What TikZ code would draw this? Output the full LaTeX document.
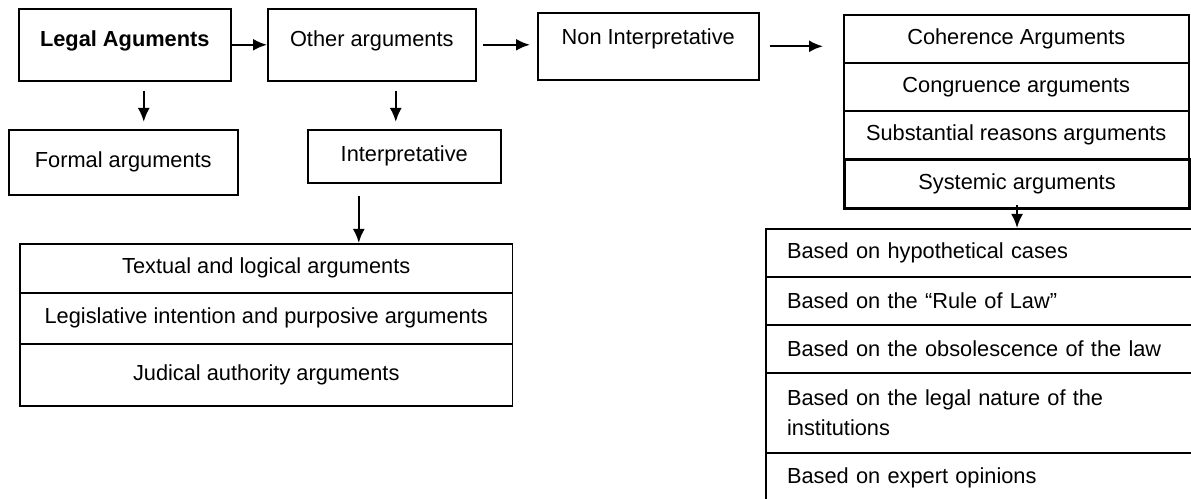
\documentclass[tikz,border=0pt]{standalone}
\usepackage{fontspec}
\setmainfont{Liberation Sans}
\usepackage{tikz}
\usetikzlibrary{arrows.meta}

\begin{document}
\begin{tikzpicture}[x=0.02cm, y=-0.02cm,
  every node/.style={font=\fontsize{12.4}{17}\selectfont},
  box/.style={draw, line width=0.9pt, inner sep=0pt, anchor=north west},
  brow/.style={draw, line width=1.2pt, inner ysep=0pt, inner xsep=0.42cm, text width=7.96cm, align=left, anchor=north west},
  arw/.style={-{Latex[length=0.28cm, width=0.24cm]}, line width=1.3pt}]
\useasboundingbox (0,0) rectangle (1191,499);
\clip (0,0) rectangle (1191,499);
% top row
\node[box, minimum width=4.24cm, text height=0.75cm, text depth=0.69cm] (legal) at (18,8) {\textbf{Legal Aguments}};
\node[box, minimum width=4.16cm, text height=0.75cm, text depth=0.69cm] (other) at (267,8) {Other arguments};
\node[box, minimum width=4.42cm, text height=0.63cm, text depth=0.71cm] (non) at (537,12) {Non Interpretative};
\node[box, minimum width=6.9cm, minimum height=0.96cm] (coh) at (843,14) {Coherence Arguments};
\node[box, minimum width=6.9cm, minimum height=0.96cm] (cong) at (843,62) {Congruence arguments};
\node[box, minimum width=6.9cm, minimum height=0.96cm] (subs) at (843,110) {Substantial reasons arguments};
\node[box, minimum width=6.9cm, minimum height=0.98cm, line width=1.8pt] (sys) at (843,158) {Systemic arguments};
% second row
\node[box, minimum width=4.58cm, minimum height=1.3cm] (formal) at (8,129) {Formal arguments};
\node[box, minimum width=3.86cm, minimum height=1.06cm] (interp) at (307,129) {Interpretative};
% left table
\node[box, minimum width=9.86cm, minimum height=0.98cm] (text1) at (19,243) {Textual and logical arguments};
\node[box, minimum width=9.86cm, minimum height=1.02cm] (text2) at (19,292) {Legislative intention and purposive arguments};
\node[box, minimum width=9.86cm, minimum height=1.24cm] (text3) at (19,343) {Judical authority arguments};
% right table
\node[brow, minimum height=0.96cm] (based1) at (765,228) {Based on hypothetical cases};
\node[brow, minimum height=0.96cm] (based2) at (765,276) {Based on the “Rule of Law”};
\node[brow, minimum height=0.96cm] (based3) at (765,324) {Based on the obsolescence of the law};
\node[brow, minimum height=1.6cm] (based4) at (765,372) {Based on the legal nature of the\\institutions};
\node[brow, minimum height=1.0cm] (based5) at (765,452) {Based on expert opinions};
% arrows
\draw[arw] (legal.east) -- (other.west);
\draw[arw, shorten <=0.12cm, shorten >=0.14cm] (other.east) -- (non.west |- other.east);
\draw[arw, shorten <=0.2cm, shorten >=0.4cm] (non.east) -- (non.east -| coh.west);
\draw[arw, shorten <=0.18cm, shorten >=0.14cm] ([xshift=0.38cm]legal.south) -- ([xshift=0.38cm]legal.south |- formal.north);
\draw[arw, shorten <=0.18cm, shorten >=0.14cm] ([xshift=0.48cm]other.south) -- ([xshift=0.48cm]other.south |- interp.north);
\draw[arw, shorten <=0.24cm] ([xshift=-0.91cm]interp.south) -- ([xshift=-0.91cm]interp.south |- text1.north);
\draw[arw] ([yshift=0.1cm]sys.south) -- (sys.south |- based1.north);
\end{tikzpicture}
\end{document}
